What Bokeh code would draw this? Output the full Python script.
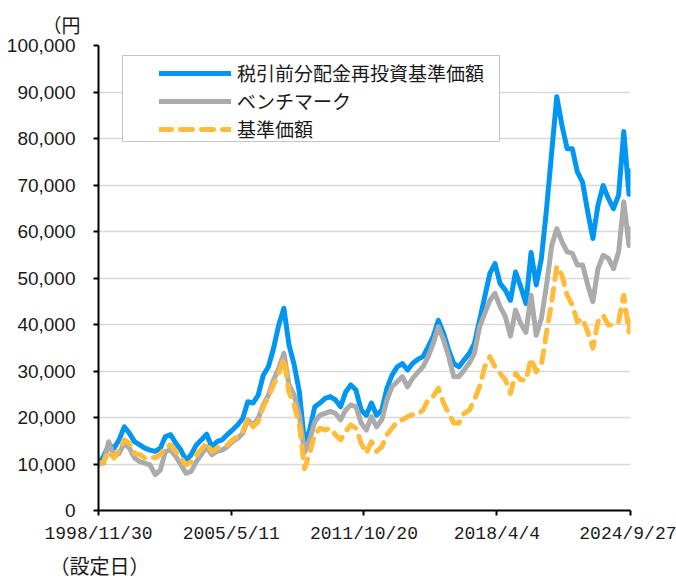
import pandas as pd
from bokeh.plotting import figure
from bokeh.models import (Range1d, FixedTicker, NumeralTickFormatter, Legend,
                          LegendItem, BoxAnnotation, Title, ColumnDataSource)
from bokeh.embed import file_html
from bokeh.resources import INLINE

# ---- data (quarterly samples) ----
start = pd.Timestamp("1998-11-30")
dates = [start + pd.offsets.MonthEnd(3 * i) for i in range(104)] + [pd.Timestamp("2024-09-27")]

nav_reinvested = [
    10000, 11600, 14100, 13400, 15200, 18000, 16600, 14800, 14100, 13400,
    13000, 12700, 13400, 15900, 16300, 14500, 13000, 10800, 12000, 14100,
    15200, 16400, 13700, 14800, 15200, 16300, 17300, 18400, 19800, 23400,
    23100, 24800, 29100, 30900, 34900, 39900, 43500, 35600, 31300, 25500,
    14500, 17300, 22300, 23100, 24100, 24500, 23800, 22300, 25500, 27000,
    25900, 21600, 20500, 23100, 20500, 21600, 26300, 29100, 30900, 31600,
    30200, 31600, 32500, 33100, 35200, 37400, 40900, 38100, 34500, 31600,
    30900, 32400, 33800, 35900, 40900, 46000, 51000, 53100, 48800, 47400,
    45200, 51300, 48100, 44500, 55500, 48500, 54200, 64900, 77100, 89000,
    82800, 77800, 77800, 72800, 70600, 64200, 58500, 65600, 69900, 67100,
    64900, 67800, 81500, 68000, 73000]

benchmark = [
    10000, 10200, 14800, 11600, 12300, 14500, 13400, 11300, 10500, 10200,
    9800, 7700, 8700, 12700, 13000, 11600, 9800, 8000, 8400, 10500,
    12100, 13700, 12000, 12700, 13000, 13700, 14800, 15500, 16600, 19500,
    18400, 19800, 22700, 24800, 28100, 30600, 33800, 27000, 24800, 20500,
    12500, 15200, 19100, 20500, 20900, 21300, 20900, 19500, 21600, 22700,
    22300, 18800, 17300, 20200, 18000, 19500, 23800, 26600, 27700, 28800,
    26600, 28400, 29700, 30900, 33100, 35900, 39500, 36700, 33100, 28800,
    28800, 30200, 31700, 33800, 39500, 42400, 45200, 46700, 43800, 41700,
    37500, 43100, 40200, 38300, 46300, 37700, 41300, 48500, 57000, 60600,
    57800, 55600, 55300, 52800, 52800, 48500, 44900, 52000, 54900, 54200,
    52000, 55600, 66400, 57000, 60600]

nav = [
    10000, 10500, 12700, 11300, 13000, 15200, 14500, 12300, 12000, 11300,
    11600, 11300, 12000, 13700, 14100, 12700, 11300, 9800, 10500, 12000,
    13200, 14500, 12700, 13400, 13700, 14100, 15200, 15900, 17000, 19800,
    18000, 19100, 22300, 24500, 27000, 29500, 32700, 25400, 22700, 18400,
    9000, 12300, 16300, 17700, 17300, 17700, 16300, 15200, 17000, 18400,
    17700, 14500, 12300, 14800, 12700, 13700, 16300, 17700, 19100, 19500,
    20200, 20600, 20700, 21600, 23800, 24500, 26300, 23100, 20900, 18800,
    18800, 20900, 21600, 23800, 26600, 30900, 33100, 30900, 29500, 28100,
    25200, 29500, 28100, 28000, 32700, 29800, 31300, 38400, 44900, 52500,
    50600, 46300, 44200, 40600, 41300, 38400, 34900, 40600, 42000, 39900,
    39900, 40600, 46300, 38400, 42000]

series_names = ["税引前分配金再投資基準価額", "ベンチマーク", "基準価額"]
x_tick_dates = ["1998-11-30", "2005-05-11", "2011-10-20", "2018-04-04", "2024-09-27"]
x_tick_labels = ["1998/11/30", "2005/5/11", "2011/10/20", "2018/4/4", "2024/9/27"]
y_ticks = [0, 10000, 20000, 30000, 40000, 50000, 60000, 70000, 80000, 90000, 100000]
unit_text = "（円"
date_text = "（設定日）"

# ---- build ----
def ms(d):
    return pd.Timestamp(d).value / 1e6

xs = [ms(d) for d in dates]
src = ColumnDataSource(dict(x=xs, a=nav_reinvested, b=benchmark, c=nav))

p = figure(width=676, height=581, output_backend="svg", toolbar_location=None,
           x_range=Range1d(xs[0], xs[-1]), y_range=Range1d(0, 100000),
           min_border_left=98, min_border_right=46, min_border_top=45,
           min_border_bottom=70)
p.outline_line_color = None
p.background_fill_color = "white"
p.border_fill_color = "white"
p.xgrid.visible = False
p.ygrid.grid_line_color = "#d9d9d9"
p.ygrid.grid_line_width = 1.5

tick_ms = [ms(d) for d in x_tick_dates]
p.xaxis.ticker = FixedTicker(ticks=tick_ms)
p.xaxis.major_label_overrides = {t: l for t, l in zip(tick_ms, x_tick_labels)}
p.yaxis.ticker = FixedTicker(ticks=y_ticks)
p.yaxis.formatter = NumeralTickFormatter(format="0,0")

for ax in (p.xaxis[0], p.yaxis[0]):
    ax.axis_line_color = "black"
    ax.axis_line_width = 2
    ax.major_tick_line_color = "black"
    ax.major_tick_line_width = 2
    ax.major_tick_out = 5
    ax.major_tick_in = 0
    ax.minor_tick_line_color = None
    ax.major_label_text_color = "#1a1a1a"
p.yaxis.major_label_text_font = "Liberation Sans"
p.yaxis.major_label_text_font_size = "19px"
p.yaxis.major_label_standoff = 18
p.xaxis.major_label_text_font = "Liberation Mono"
p.xaxis.major_label_text_font_size = "18px"
p.xaxis.major_label_standoff = 8

r_a = p.line("x", "a", source=src, line_color="#0096F2", line_width=5,
             line_join="round", line_cap="round")
r_b = p.line("x", "b", source=src, line_color="#ABABAB", line_width=5,
             line_join="round", line_cap="round")
r_c = p.line("x", "c", source=src, line_color="#FFBC3C", line_width=5,
             line_join="round", line_cap="round", line_dash="12 9")

box = BoxAnnotation(left=122, right=499, top=55, bottom=141,
                    left_units="canvas", right_units="canvas",
                    top_units="canvas", bottom_units="canvas",
                    fill_color="white", fill_alpha=1.0,
                    line_color="#404040", line_width=1)
p.add_layout(box)

legend = Legend(items=[LegendItem(label=series_names[0], renderers=[r_a]),
                       LegendItem(label=series_names[1], renderers=[r_b]),
                       LegendItem(label=series_names[2], renderers=[r_c])],
                location=(56, 363), orientation="vertical",
                border_line_alpha=0, background_fill_alpha=0,
                label_text_font="Noto Sans CJK JP", label_text_font_size="19px",
                label_text_color="#1a1a1a",
                glyph_width=72, glyph_height=20, label_height=20,
                spacing=1, padding=5, margin=0, label_standoff=6)
p.add_layout(legend, "center")

p.title = Title(text=unit_text, align="left", offset=-56,
                text_font="Noto Sans CJK JP", text_font_size="19px",
                text_font_style="normal", text_color="#1a1a1a", standoff=16)
p.add_layout(Title(text=date_text, align="left", offset=-49,
                   text_font="Noto Sans CJK JP", text_font_size="20px",
                   text_font_style="normal", text_color="#1a1a1a",
                   standoff=4), "below")

open("out.html", "w").write(file_html(p, INLINE))
